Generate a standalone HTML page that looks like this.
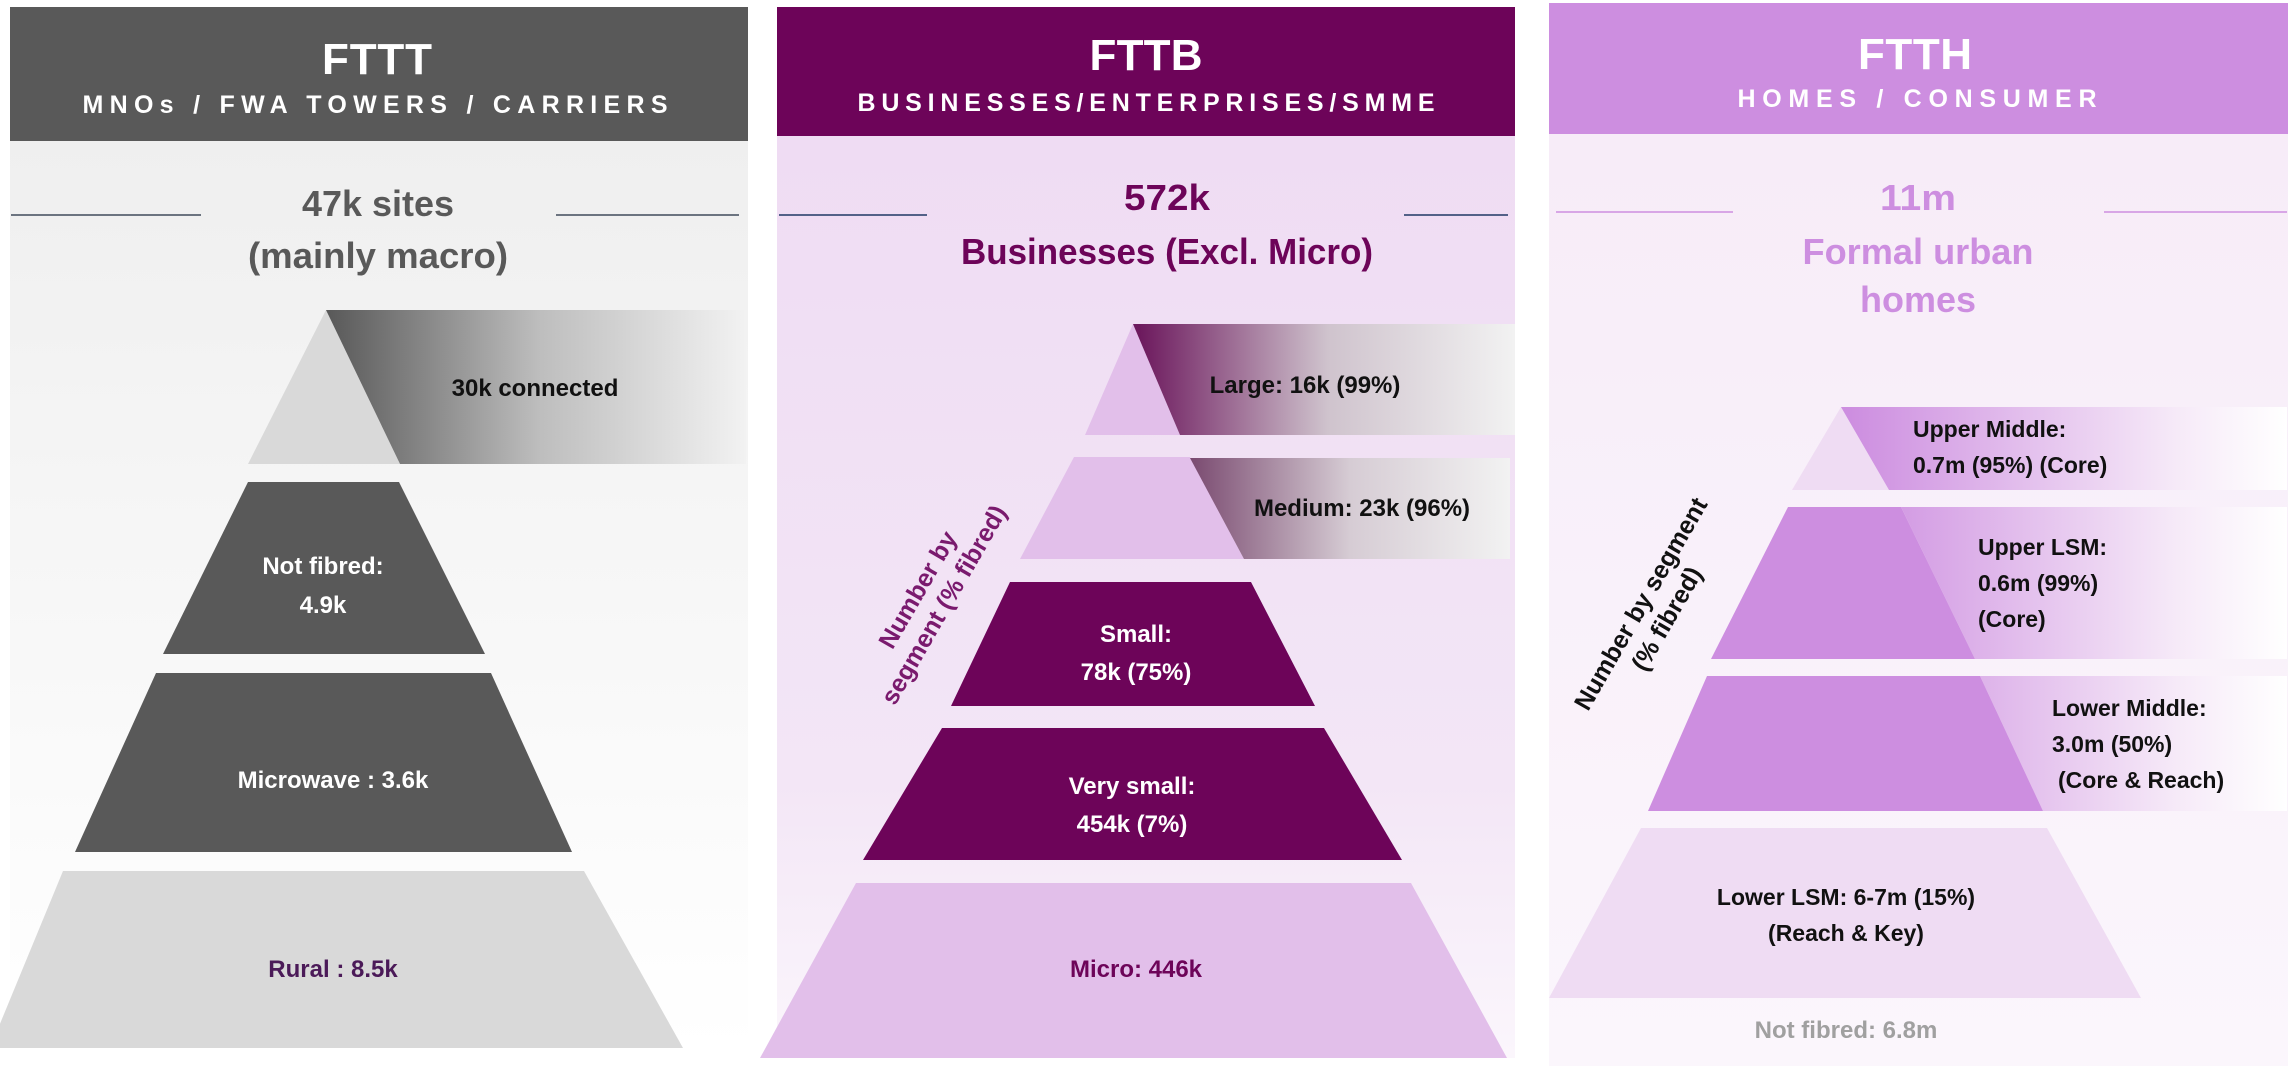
<!DOCTYPE html>
<html><head><meta charset="utf-8"><style>html,body{margin:0;padding:0;background:#fff}svg{display:block}text{font-family:"Liberation Sans",sans-serif;font-weight:bold}</style></head>
<body>
<svg width="2288" height="1066" viewBox="0 0 2288 1066" xmlns="http://www.w3.org/2000/svg">
<defs>
<linearGradient id="bg1" x1="0" y1="0" x2="0" y2="1"><stop offset="0" stop-color="#efefef"/><stop offset="1" stop-color="#ffffff"/></linearGradient>
<linearGradient id="bg2" x1="0" y1="0" x2="0" y2="1"><stop offset="0" stop-color="#efdcf3"/><stop offset="0.7" stop-color="#f3e6f6"/><stop offset="1" stop-color="#fbf6fc"/></linearGradient>
<linearGradient id="bg3" x1="0" y1="0" x2="0" y2="1"><stop offset="0" stop-color="#f7ecf8"/><stop offset="1" stop-color="#fbf6fc"/></linearGradient>
<linearGradient id="g1" gradientUnits="userSpaceOnUse" x1="330" y1="0" x2="746" y2="0"><stop offset="0" stop-color="#5a5a5a"/><stop offset="0.5" stop-color="#bdbdbd"/><stop offset="1" stop-color="#f2f2f2"/></linearGradient>
<linearGradient id="g2" gradientUnits="userSpaceOnUse" x1="1140" y1="0" x2="1515" y2="0"><stop offset="0" stop-color="#6d1a5e"/><stop offset="0.5" stop-color="#cfc3cd"/><stop offset="1" stop-color="#f2f2f2"/></linearGradient>
<linearGradient id="g3" gradientUnits="userSpaceOnUse" x1="1190" y1="0" x2="1510" y2="0"><stop offset="0" stop-color="#7a4a70"/><stop offset="0.5" stop-color="#d6ccd4"/><stop offset="1" stop-color="#f2f2f2"/></linearGradient>
<linearGradient id="g4" gradientUnits="userSpaceOnUse" x1="1850" y1="0" x2="2287" y2="0"><stop offset="0" stop-color="#cd8ee0"/><stop offset="0.75" stop-color="#f6eaf8" /><stop offset="1" stop-color="#ffffff"/></linearGradient>
</defs>
<!-- Panel 1 -->
<rect x="10" y="141" width="738" height="910" fill="url(#bg1)"/>
<rect x="10" y="7" width="738" height="134" fill="#595959"/>
<text x="377" y="74" font-size="44" fill="#fff" text-anchor="middle" textLength="110" lengthAdjust="spacing">FTTT</text>
<text x="375" y="113" font-size="25" fill="#fff" text-anchor="middle" textLength="585" lengthAdjust="spacing">MNOs / FWA TOWERS / CARRIERS</text>
<line x1="11" y1="215" x2="201" y2="215" stroke="#404a5a" stroke-width="1.5"/>
<line x1="556" y1="215" x2="739" y2="215" stroke="#404a5a" stroke-width="1.5"/>
<text x="378" y="216" font-size="36" fill="#595959" text-anchor="middle" textLength="152" lengthAdjust="spacingAndGlyphs">47k sites</text>
<text x="378" y="268" font-size="36" fill="#595959" text-anchor="middle" textLength="260" lengthAdjust="spacingAndGlyphs">(mainly macro)</text>
<polygon points="326,310 248,464 400,464" fill="#d9d9d9"/>
<polygon points="326,310 746,310 746,464 400,464" fill="url(#g1)"/>
<text x="535" y="396" font-size="24" fill="#111" text-anchor="middle">30k connected</text>
<polygon points="248,482 399,482 485,654 163,654" fill="#595959"/>
<text x="323" y="574" font-size="24" fill="#fff" text-anchor="middle">Not fibred:</text>
<text x="323" y="613" font-size="24" fill="#fff" text-anchor="middle">4.9k</text>
<polygon points="156,673 491,673 572,852 75,852" fill="#595959"/>
<text x="333" y="788" font-size="24" fill="#fff" text-anchor="middle">Microwave : 3.6k</text>
<polygon points="63,871 584,871 683,1048 -10,1048" fill="#d9d9d9"/>
<text x="333" y="977" font-size="24" fill="#4b1a58" text-anchor="middle">Rural : 8.5k</text>
<!-- Panel 2 -->
<rect x="777" y="136" width="738" height="922" fill="url(#bg2)"/>
<rect x="777" y="7" width="738" height="129" fill="#6d0459"/>
<text x="1146" y="70" font-size="44" fill="#fff" text-anchor="middle" textLength="113" lengthAdjust="spacing">FTTB</text>
<text x="1146" y="111" font-size="25" fill="#fff" text-anchor="middle" textLength="577" lengthAdjust="spacing">BUSINESSES/ENTERPRISES/SMME</text>
<line x1="779" y1="215" x2="927" y2="215" stroke="#1f3864" stroke-width="1.5"/>
<line x1="1404" y1="215" x2="1508" y2="215" stroke="#1f3864" stroke-width="1.5"/>
<text x="1167" y="210" font-size="36" fill="#6d0459" text-anchor="middle" textLength="86" lengthAdjust="spacingAndGlyphs">572k</text>
<text x="1167" y="264" font-size="36" fill="#6d0459" text-anchor="middle" textLength="412" lengthAdjust="spacingAndGlyphs">Businesses (Excl. Micro)</text>
<polygon points="1133,324 1085,435 1180,435" fill="#e2bfea"/>
<polygon points="1133,324 1515,324 1515,435 1180,435" fill="url(#g2)"/>
<text x="1305" y="393" font-size="24" fill="#111" text-anchor="middle">Large: 16k (99%)</text>
<polygon points="1074,457 1190,457 1244,559 1020,559" fill="#e2bfea"/>
<polygon points="1190,458 1510,458 1510,559 1244,559" fill="url(#g3)"/>
<text x="1362" y="516" font-size="24" fill="#111" text-anchor="middle">Medium: 23k (96%)</text>
<polygon points="1010,582 1251,582 1315,706 951,706" fill="#6d0459"/>
<text x="1136" y="642" font-size="24" fill="#fff" text-anchor="middle">Small:</text>
<text x="1136" y="680" font-size="24" fill="#fff" text-anchor="middle">78k (75%)</text>
<polygon points="942,728 1324,728 1402,860 863,860" fill="#6d0459"/>
<text x="1132" y="794" font-size="24" fill="#fff" text-anchor="middle">Very small:</text>
<text x="1132" y="832" font-size="24" fill="#fff" text-anchor="middle">454k (7%)</text>
<polygon points="856,883 1411,883 1507,1058 760,1058" fill="#e2bfea"/>
<text x="1136" y="977" font-size="24" fill="#6d0459" text-anchor="middle">Micro: 446k</text>
<g transform="translate(932,598) rotate(-60)" font-size="25" fill="#7a1a6e" text-anchor="middle">
<text x="0" y="-8">Number by</text>
<text x="0" y="22">segment (% fibred)</text>
</g>
<!-- Panel 3 -->
<rect x="1549" y="134" width="739" height="932" fill="url(#bg3)"/>
<rect x="1549" y="3" width="739" height="131" fill="#cd8ee0"/>
<text x="1915" y="69" font-size="44" fill="#fff" text-anchor="middle" textLength="114" lengthAdjust="spacing">FTTH</text>
<text x="1917" y="107" font-size="25" fill="#fff" text-anchor="middle" textLength="359" lengthAdjust="spacing">HOMES / CONSUMER</text>
<line x1="1556" y1="212" x2="1733" y2="212" stroke="#cd8ee0" stroke-width="1.5"/>
<line x1="2104" y1="212" x2="2287" y2="212" stroke="#cd8ee0" stroke-width="1.5"/>
<text x="1918" y="210" font-size="36" fill="#cd8ee0" text-anchor="middle" textLength="76" lengthAdjust="spacingAndGlyphs">11m</text>
<text x="1918" y="264" font-size="36" fill="#cd8ee0" text-anchor="middle" textLength="231" lengthAdjust="spacingAndGlyphs">Formal urban</text>
<text x="1918" y="312" font-size="36" fill="#cd8ee0" text-anchor="middle" textLength="116" lengthAdjust="spacingAndGlyphs">homes</text>
<polygon points="1841,407 1792,490 1889,490" fill="#efdcf3"/>
<polygon points="1841,407 2287,407 2287,490 1889,490" fill="url(#g4)"/>
<text x="1913" y="437" font-size="23" fill="#111">Upper Middle:</text>
<text x="1913" y="473" font-size="23" fill="#111">0.7m (95%) (Core)</text>
<polygon points="1901,507 2287,507 2287,659 1975,659" fill="url(#g4)"/>
<polygon points="1788,507 1901,507 1975,659 1711,659" fill="#cd8ee0"/>
<text x="1978" y="555" font-size="23" fill="#111">Upper LSM:</text>
<text x="1978" y="591" font-size="23" fill="#111">0.6m (99%)</text>
<text x="1978" y="627" font-size="23" fill="#111">(Core)</text>
<polygon points="1980,676 2287,676 2287,811 2043,811" fill="url(#g4)"/>
<polygon points="1707,676 1980,676 2043,811 1648,811" fill="#cd8ee0"/>
<text x="2052" y="716" font-size="23" fill="#111">Lower Middle:</text>
<text x="2052" y="752" font-size="23" fill="#111">3.0m (50%)</text>
<text x="2058" y="788" font-size="23" fill="#111">(Core &amp; Reach)</text>
<polygon points="1641,828 2047,828 2141,998 1549,998" fill="#efdcf3"/>
<text x="1846" y="905" font-size="23" fill="#111" text-anchor="middle">Lower LSM: 6-7m (15%)</text>
<text x="1846" y="941" font-size="23" fill="#111" text-anchor="middle">(Reach &amp; Key)</text>
<text x="1846" y="1038" font-size="24" fill="#a0a0a0" text-anchor="middle">Not fibred: 6.8m</text>
<g transform="translate(1655,612) rotate(-60)" font-size="25" fill="#111" text-anchor="middle">
<text x="0" y="-8">Number by segment</text>
<text x="0" y="22">(% fibred)</text>
</g>
</svg>
</body></html>
